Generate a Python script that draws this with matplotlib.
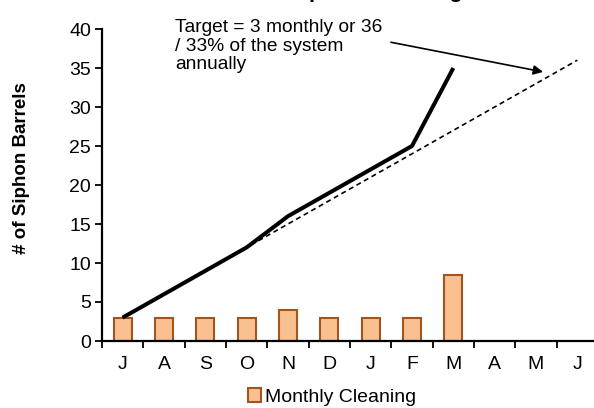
import numpy as np
import matplotlib.pyplot as plt

months = ['J', 'A', 'S', 'O', 'N', 'D', 'J', 'F', 'M', 'A', 'M', 'J']
monthly = [3, 3, 3, 3, 4, 3, 3, 3, 8.5]
cumulative = [3, 6, 9, 12, 16, 19, 22, 25, 35]
target = [3, 6, 9, 12, 15, 18, 21, 24, 27, 30, 33, 36]

plt.rcParams['font.family'] = ['Liberation Sans', 'DejaVu Sans']

fig = plt.figure(figsize=(5.94, 4.08), dpi=100)
ax = fig.add_axes([102 / 594, 1 - 341 / 408, 496 / 594, 312 / 408])

x = np.arange(len(months))
ax.bar(x[:len(monthly)], monthly, width=0.43, color='#FAC090',
       edgecolor='#A0561E', linewidth=1.5, label='Monthly Cleaning', zorder=2)
ax.plot(x, target, color='black', linestyle=(0, (3, 2.2)), linewidth=1.2, zorder=3)
ax.plot(x[:len(cumulative)], cumulative, color='black', linewidth=2.9,
        solid_capstyle='butt', zorder=4)

ax.set_xlim(-0.5, len(months) - 0.5)
ax.set_ylim(0, 40)
ax.set_yticks(range(0, 41, 5))
ax.set_xticks(x)
ax.set_xticklabels(months)
ax.set_xticks(np.arange(-0.5, len(months), 1), minor=True)
ax.tick_params(axis='x', which='major', length=0, pad=11, labelsize=14)
ax.tick_params(axis='x', which='minor', length=5, width=1.3, direction='out')
ax.tick_params(axis='y', length=5, width=1.3, direction='out', labelsize=14, pad=3)
for s in ['top', 'right']:
    ax.spines[s].set_visible(False)
for s in ['left', 'bottom']:
    ax.spines[s].set_linewidth(1.6)

fig.text(22 / 594, 1 - 168 / 408, '# of Siphon Barrels', fontsize=13.5,
         fontweight='bold', rotation=90, ha='center', va='center')

ax.annotate('', xy=(10.17, 34.5), xytext=(6.49, 38.3),
            arrowprops=dict(arrowstyle='-|>', color='black', lw=1.2,
                            mutation_scale=14, shrinkA=0, shrinkB=0))
ax.text(175 / 594, 1 - 19 / 408, 'Target = 3 monthly or 36\n/ 33% of the system\nannually',
        transform=fig.transFigure, fontsize=13.8, va='top', ha='left', linespacing=1.12)

fig.text(375 / 594, 1 + 2.5 / 408, 'Siphon Cleaning', fontsize=16, fontweight='bold',
         ha='center', va='baseline')

fig.legend(loc='center', bbox_to_anchor=(332 / 594, 1 - 397 / 408), frameon=False,
           fontsize=14, handlelength=0.7, handleheight=0.7, handletextpad=0.2)

fig.savefig('out.png', dpi=100)
